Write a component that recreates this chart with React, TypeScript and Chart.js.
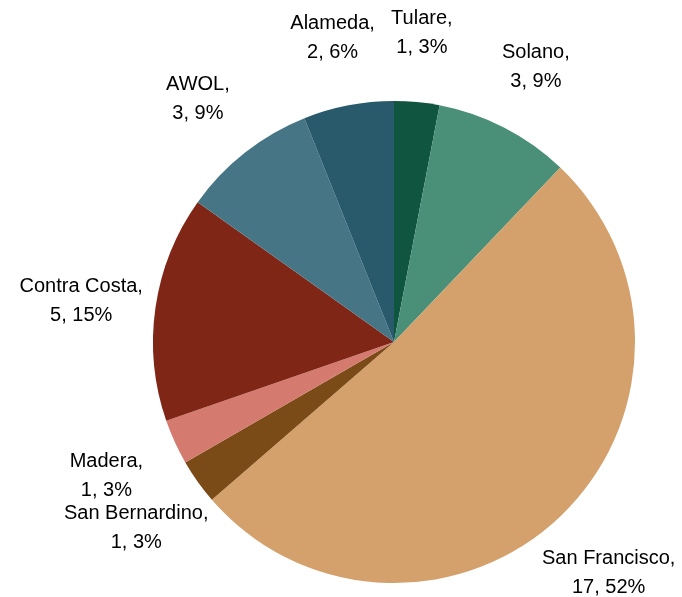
import React, { useEffect, useRef } from "react";
import { Chart, registerables } from "chart.js";

Chart.register(...registerables);

const categories = ["Tulare", "Solano", "San Francisco", "San Bernardino", "Madera", "Contra Costa", "AWOL", "Alameda"];
const values = [1, 3, 17, 1, 1, 5, 3, 2];
const colors = ["#10553F", "#4A8F78", "#D4A06B", "#7A4A17", "#D57A6E", "#7F2617", "#467686", "#285A6B"];

const labelPlugin = {
  id: "outsideLabels",
  afterDatasetsDraw(chart: any) {
    const ctx = chart.ctx;
    const meta = chart.getDatasetMeta(0);
    const data = chart.data.datasets[0].data as number[];
    const total = data.reduce((a, b) => a + b, 0);
    ctx.save();
    ctx.font = "20px 'Liberation Sans', Arial, sans-serif";
    ctx.fillStyle = "#000";
    ctx.textAlign = "center";
    ctx.textBaseline = "middle";
    meta.data.forEach((arc: any, i: number) => {
      const { x, y, startAngle, endAngle, outerRadius } = arc.getProps(["x", "y", "startAngle", "endAngle", "outerRadius"], true);
      const mid = (startAngle + endAngle) / 2;
      const d = outerRadius + 73;
      const cx = x + Math.cos(mid) * d - 2;
      const cy = y + Math.sin(mid) * d + 4;
      const pct = Math.round((data[i] / total) * 100);
      ctx.fillText(chart.data.labels[i] + ",", cx, cy - 14.5);
      ctx.fillText(`${data[i]}, ${pct}%`, cx, cy + 14.5);
    });
    ctx.restore();
  },
};

export default function App() {
  const ref = useRef<HTMLCanvasElement>(null);
  useEffect(() => {
    const chart = new Chart(ref.current!, {
      type: "pie",
      data: {
        labels: categories,
        datasets: [{ data: values, backgroundColor: colors, borderWidth: 0 }],
      },
      options: {
        animation: false,
        responsive: false,
        layout: { padding: { top: 101, bottom: 14, left: 153, right: 47 } },
        plugins: { legend: { display: false }, tooltip: { enabled: false } },
      },
      plugins: [labelPlugin],
    });
    return () => chart.destroy();
  }, []);
  return (
    <div style={{ position: "absolute", left: 0, top: 0, width: 682, height: 597, background: "#fff" }}>
      <canvas ref={ref} width={682} height={597} />
    </div>
  );
}
